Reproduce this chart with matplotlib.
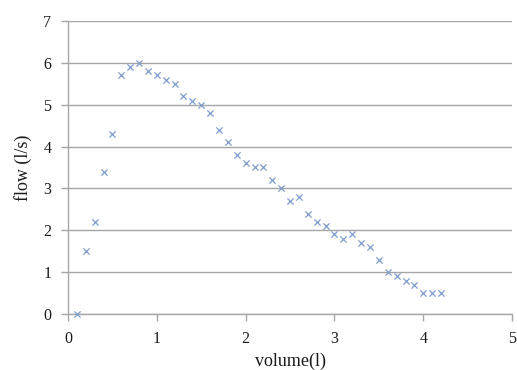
import matplotlib
matplotlib.use('Agg')
import matplotlib.pyplot as plt

# volume (l) and flow (l/s)
volume = [0.1, 0.2, 0.3, 0.4, 0.5, 0.6, 0.7, 0.8, 0.9, 1.0,
          1.1, 1.2, 1.3, 1.4, 1.5, 1.6, 1.7, 1.8, 1.9, 2.0,
          2.1, 2.2, 2.3, 2.4, 2.5, 2.6, 2.7, 2.8, 2.9, 3.0,
          3.1, 3.2, 3.3, 3.4, 3.5, 3.6, 3.7, 3.8, 3.9, 4.0,
          4.1, 4.2]
flow = [0.0, 1.5, 2.2, 3.4, 4.3, 5.7, 5.9, 6.0, 5.8, 5.7,
        5.6, 5.5, 5.2, 5.1, 5.0, 4.8, 4.4, 4.1, 3.8, 3.6,
        3.5, 3.5, 3.2, 3.0, 2.7, 2.8, 2.4, 2.2, 2.1, 1.9,
        1.8, 1.9, 1.7, 1.6, 1.3, 1.0, 0.9, 0.8, 0.7, 0.5,
        0.5, 0.5]
x_ticks = [0, 1, 2, 3, 4, 5]
y_ticks = [0, 1, 2, 3, 4, 5, 6, 7]

plt.rcParams['font.family'] = ['Liberation Serif', 'DejaVu Serif']

fig = plt.figure(figsize=(5.17, 3.70), dpi=100)
ax = fig.add_axes([0.1315, 0.1514, 0.8590, 0.7918])

ax.scatter(volume, flow, marker='x', s=20, linewidths=0.9,
           color='#7f9dcc', zorder=3, clip_on=False)

ax.set_xlim(0, 5)
ax.set_ylim(0, 7)
ax.set_xticks(x_ticks)
ax.set_yticks(y_ticks)

ax.grid(axis='y', color='#a6a6a6', linewidth=1.0)
ax.set_axisbelow(True)
for side in ['top', 'right']:
    ax.spines[side].set_visible(False)
for side in ['left', 'bottom']:
    ax.spines[side].set_color('#a6a6a6')
    ax.spines[side].set_linewidth(1.0)

ax.tick_params(axis='both', direction='out', length=5, width=1.0,
               color='#a6a6a6', labelsize=11.5, labelcolor='#1a1a1a')
ax.tick_params(axis='x', pad=7)
ax.tick_params(axis='y', pad=7)

ax.set_xlabel('volume(l)', fontsize=13, color='#1a1a1a', labelpad=4)
ax.set_ylabel('flow (l/s)', fontsize=13, color='#1a1a1a', labelpad=8)

fig.savefig('out.png', dpi=100)
